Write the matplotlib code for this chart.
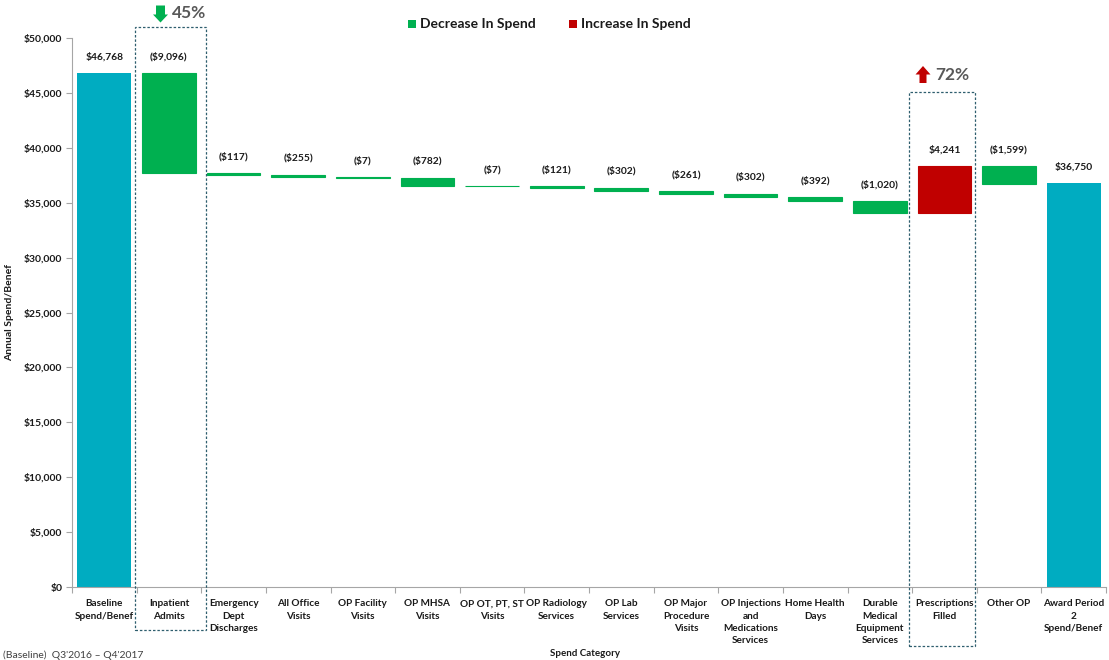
import matplotlib
matplotlib.use("Agg")
import matplotlib.pyplot as plt
from matplotlib.patches import Rectangle, Polygon
from matplotlib.ticker import FuncFormatter, FixedLocator
import numpy as np

plt.rcParams['font.family'] = ['Lato', 'DejaVu Sans']

categories = [
    "Baseline\nSpend/Benef", "Inpatient\nAdmits", "Emergency\nDept\nDischarges",
    "All Office\nVisits", "OP Facility\nVisits", "OP MHSA\nVisits",
    "OP OT, PT, ST\nVisits", "OP Radiology\nServices", "OP Lab\nServices",
    "OP Major\nProcedure\nVisits", "OP Injections\nand\nMedications\nServices",
    "Home Health\nDays", "Durable\nMedical\nEquipment\nServices",
    "Prescriptions\nFilled", "Other OP", "Award Period\n2\nSpend/Benef",
]
baseline_value = 46768
changes = [-9096, -117, -255, -7, -782, -7, -121, -302, -261, -302, -392, -1020, 4241, -1599]
final_value = 36750
y_ticks = [0, 5000, 10000, 15000, 20000, 25000, 30000, 35000, 40000, 45000, 50000]

TEAL = "#00ACC1"
GREEN = "#00B050"
RED = "#C00000"
TEXT = "#1A1A1A"
AXIS_GRAY = "#A6A6A6"
BOX = "#2E5E6E"
PCT = "#595959"

W, H = 1109, 660
fig = plt.figure(figsize=(W / 100, H / 100), dpi=100)
ax = fig.add_axes([72 / W, 1 - 587 / H, (1106 - 72) / W, (587 - 38) / H])

def money(v):
    s = "${:,.0f}".format(abs(v))
    return "(" + s + ")" if v < 0 else s

n = len(categories)
x = np.arange(n)
bw = 0.83
LBL_OFF = 8.5
LBL_SIZE = 7.4

# running level after each step
levels = [baseline_value]
for c in changes:
    levels.append(levels[-1] + c)

# endpoints
for pos, val in ((0, baseline_value), (n - 1, final_value)):
    ax.bar(pos, val, width=bw, color=TEAL, linewidth=0)
    ax.annotate(money(val), (pos, val), xytext=(0, LBL_OFF),
                textcoords="offset points", ha="center", va="bottom",
                fontsize=LBL_SIZE, fontweight="bold", color=TEXT)

# floating steps
for i, c in enumerate(changes, start=1):
    start = levels[i - 1]
    end = levels[i]
    lo, hi = min(start, end), max(start, end)
    col = RED if c > 0 else GREEN
    ax.bar(i, hi - lo, bottom=lo, width=bw, color=col, edgecolor=col, linewidth=0.8)
    ax.annotate(money(c), (i, hi), xytext=(0, LBL_OFF), textcoords="offset points",
                ha="center", va="bottom", fontsize=LBL_SIZE, fontweight="bold",
                color=TEXT)

ax.set_xlim(-0.5, n - 0.5)
ax.set_ylim(0, 50000)

ax.yaxis.set_major_locator(FixedLocator(y_ticks))
ax.yaxis.set_major_formatter(FuncFormatter(lambda v, p: "${:,.0f}".format(v)))
ax.tick_params(axis="y", length=4, width=0.8, color=AXIS_GRAY, labelsize=7.5,
               labelcolor=TEXT, pad=3)
for t in ax.get_yticklabels():
    t.set_fontweight("bold")

ax.set_xticks(x)
ax.set_xticklabels(categories, fontsize=7.2, fontweight="bold", color=TEXT,
                   linespacing=1.45, va="top")
ax.tick_params(axis="x", length=0, pad=9)
ax.set_xticks(np.arange(n + 1) - 0.5, minor=True)
ax.tick_params(axis="x", which="minor", length=4, width=0.8, color=AXIS_GRAY)

for side in ("top", "right"):
    ax.spines[side].set_visible(False)
for side in ("left", "bottom"):
    ax.spines[side].set_color(AXIS_GRAY)
    ax.spines[side].set_linewidth(0.8)

ax.set_ylabel("Annual Spend/Benef", fontsize=7.5, fontweight="bold", color=TEXT,
              labelpad=7)
fig.text(585 / W, 1 - 654 / H, "Spend Category", ha="center", va="center",
         fontsize=7, fontweight="bold", color=TEXT)
fig.text(3 / W, 1 - 655 / H, "(Baseline)  Q3'2016 \u2013 Q4'2017", ha="left",
         va="center", fontsize=7.5, color="#404040")

# highlight boxes around key categories
box_specs = {1: (0.475, 1.573, 51000, -3900), 13: (12.45, 13.47, 45080, -5370)}
for i, (x0, x1, ytop, ybot) in box_specs.items():
    r = Rectangle((x0, ybot), x1 - x0, ytop - ybot, fill=False, edgecolor=BOX,
                  linewidth=0.9, linestyle=(0, (2, 1.5)), clip_on=False, zorder=5)
    ax.add_patch(r)

# arrow callouts (pixel geometry converted to figure fraction)
def fig_poly(pts, color):
    P = [(px / W, 1 - py / H) for px, py in pts]
    fig.add_artist(Polygon(P, closed=True, facecolor=color, edgecolor="none",
                           transform=fig.transFigure))

# green down arrow
fig_poly([(156, 5.5), (165, 5.5), (165, 14.5), (168, 14.5), (160.5, 22.5),
          (153, 14.5), (156, 14.5)], GREEN)
fig.text(172 / W, 1 - 13.5 / H, "45%", ha="left", va="center", fontsize=12.5,
         fontweight="bold", color=PCT)
# red up arrow
fig_poly([(919.5, 83), (926.5, 83), (926.5, 74.5), (930.5, 74.5), (923, 66),
          (915.5, 74.5), (919.5, 74.5)], RED)
fig.text(935 / W, 1 - 75 / H, "72%", ha="left", va="center", fontsize=12.5,
         fontweight="bold", color=PCT)

# legend
fig.add_artist(Rectangle((408 / W, 1 - 28 / H), 8 / W, 8 / H, facecolor=GREEN,
                         edgecolor="none", transform=fig.transFigure))
fig.text(420 / W, 1 - 23.5 / H, "Decrease In Spend", ha="left", va="center",
         fontsize=10, fontweight="bold", color=TEXT)
fig.add_artist(Rectangle((569 / W, 1 - 28 / H), 8 / W, 8 / H, facecolor=RED,
                         edgecolor="none", transform=fig.transFigure))
fig.text(581 / W, 1 - 23.5 / H, "Increase In Spend", ha="left", va="center",
         fontsize=10, fontweight="bold", color=TEXT)

fig.savefig("out.png", dpi=100)
